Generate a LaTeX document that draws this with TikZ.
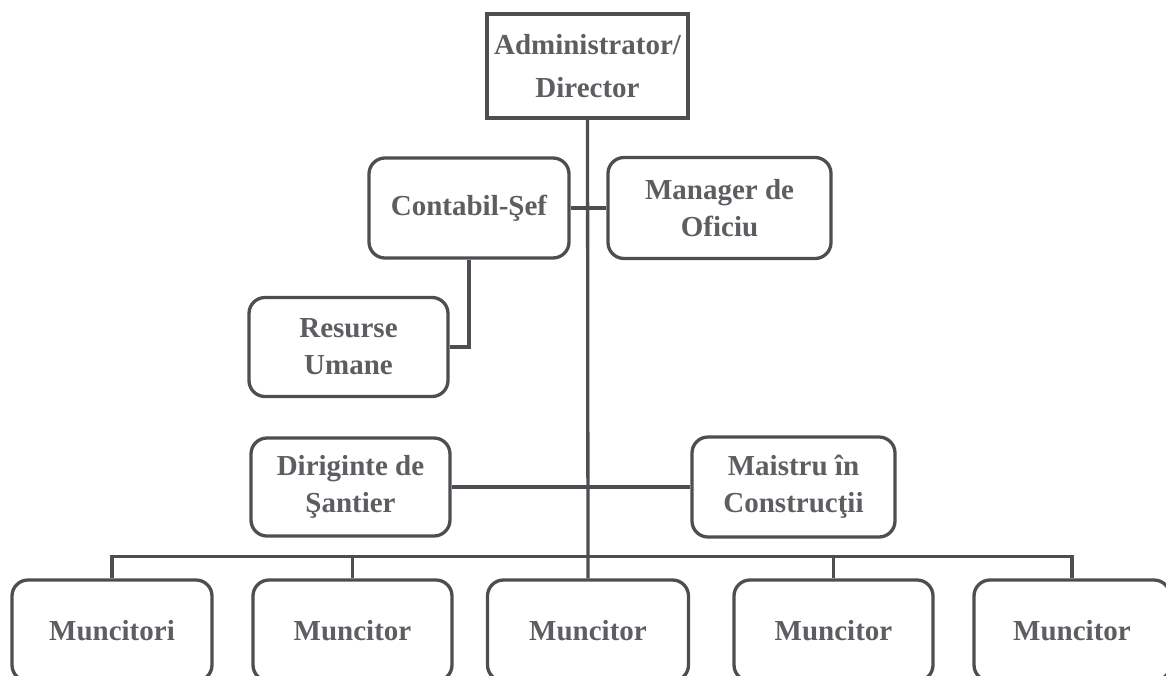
\documentclass[tikz,border=0pt]{standalone}
\usepackage{fontspec}
\setmainfont{Liberation Serif}
\definecolor{ink}{HTML}{4E4E52}
\definecolor{txt}{HTML}{5E5E62}
\begin{document}
\begin{tikzpicture}[x=1pt,y=-1pt,
  box/.style={draw=ink, line width=3.3pt, rounded corners=16pt, align=center,
    text=txt, font=\fontsize{29}{37}\selectfont\bfseries, inner sep=0pt},
  topbox/.style={box, rounded corners=0pt, font=\fontsize{29}{43}\selectfont\bfseries},
  wire/.style={draw=ink, line width=3.3pt}]
\useasboundingbox (0,0) rectangle (1166,675);
\clip (0,0) rectangle (1166,675);
\node[topbox, minimum width=201pt, minimum height=104pt] (top) at (587.5,66) {Administrator/\\Director};
\node[box, minimum width=200pt, minimum height=100pt] (cs) at (469,208) {Contabil-Şef};
\node[box, minimum width=223pt, minimum height=101pt] (mo) at (719.5,208) {Manager de\\Oficiu};
\node[box, minimum width=199pt, minimum height=99pt] (ru) at (348.5,347) {Resurse\\Umane};
\node[box, minimum width=199pt, minimum height=98pt] (ds) at (350.5,487) {Diriginte de\\Şantier};
\node[box, minimum width=203pt, minimum height=100pt] (mc) at (793.5,487) {Maistru în\\Construcţii};
\node[box, minimum width=200pt, minimum height=101pt] (m1) at (112,630.5) {Muncitori};
\node[box, minimum width=199pt, minimum height=101pt] (m2) at (352.5,630.5) {Muncitor};
\node[box, minimum width=201pt, minimum height=101pt] (m3) at (588,630.5) {Muncitor};
\node[box, minimum width=199pt, minimum height=101pt] (m4) at (833.5,630.5) {Muncitor};
\node[box, minimum width=196pt, minimum height=101pt] (m5) at (1072,630.5) {Muncitor};
\draw[wire] (top.south) -- (m3.north);
\draw[wire] (cs.east) -- (mo.west);
\draw[wire] (ru.east) -| (cs.south);
\draw[wire] (ds.east) -- (mc.west);
\draw[wire] (m1.north) -- ++(0,-22) -| (m5.north);
\draw[wire] (m2.north) -- ++(0,-22);
\draw[wire] (m4.north) -- ++(0,-22);
\end{tikzpicture}
\end{document}
